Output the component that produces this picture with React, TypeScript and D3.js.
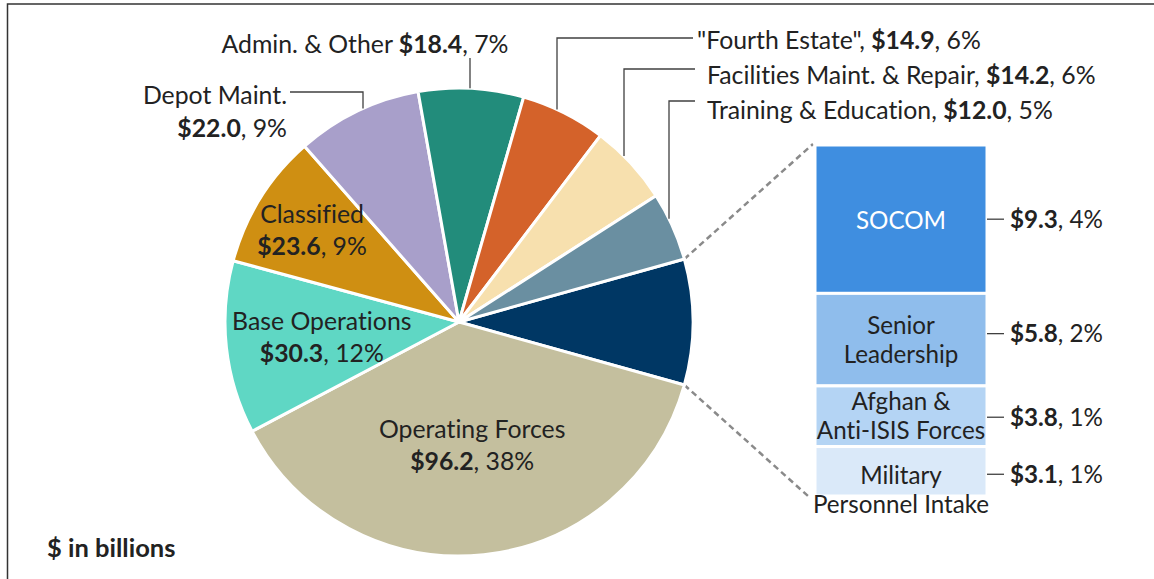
import React from "react";
import * as d3 from "d3";

// ---------- data ----------
const pieCategories = [
  "Operating Forces",
  "Base Operations",
  "Classified",
  "Depot Maint.",
  "Admin. & Other",
  "\"Fourth Estate\"",
  "Facilities Maint. & Repair",
  "Training & Education",
];
const pieValues = [96.2, 30.3, 23.6, 22.0, 18.4, 14.9, 14.2, 12.0];
const pieColors = ["#C4BF9E", "#5FD7C4", "#CF8F12", "#A89FCA", "#228C7B", "#D4622A", "#F7E0AE", "#6A8FA1"];
const otherColor = "#003764";

const barCategories = ["SOCOM", "Senior Leadership", "Afghan & Anti-ISIS Forces", "Military Personnel Intake"];
const barLabelLines = [["SOCOM"], ["Senior", "Leadership"], ["Afghan &", "Anti-ISIS Forces"], ["Military", "Personnel Intake"]];
const barValues = [9.3, 5.8, 3.8, 3.1];
const barColors = ["#3F8EE0", "#8FBDEC", "#B4D4F4", "#DAE9F9"];
const barTextColors = ["#FFFFFF", "#222222", "#222222", "#222222"];
const unitsLabel = "$ in billions";

// ---------- layout ----------
const W = 1154;
const H = 579;
const FONT = "Lato, 'Open Sans', sans-serif";
const FS = 24.8;
const FSB = 24.2;
const LH = 32;
const TXT = "#222222";
const cx = 459;
const cy = 322;
const R = 234;
const barX0 = 815;
const barX1 = 987;
const barTop = 145;
const barBottom = 496;

// inside labels: radius factor of block center
const insideLabels: Record<string, number> = {
  "Operating Forces": 0.53,
  "Base Operations": 0.59,
  "Classified": 0.74,
};
// outside labels
type Out = { x: number; y: number; anchor: string; lines: number; leader: number[][]; leaderX: number; single?: boolean };
const outsideLabels: Record<string, Out> = {
  "Depot Maint.": { x: 287, y: 95, anchor: "end", lines: 2, leader: [[290, 92]], leaderX: 363 },
  "Admin. & Other": { x: 365, y: 44, anchor: "middle", lines: 1, leader: [], leaderX: 470, single: true },
  "\"Fourth Estate\"": { x: 697, y: 40, anchor: "start", lines: 1, leader: [[693, 38]], leaderX: 557 },
  "Facilities Maint. & Repair": { x: 707, y: 75, anchor: "start", lines: 1, leader: [[695, 69]], leaderX: 624 },
  "Training & Education": { x: 707, y: 110, anchor: "start", lines: 1, leader: [[695, 101]], leaderX: 669 },
};
const barValueDy = [0, -6, 1, 3];
const barTextDy = [1, 0, 0, 19];

export default function App() {
  const otherValue = d3.sum(barValues);
  const total = d3.sum(pieValues) + otherValue;
  const items = [
    { name: "Other", value: otherValue, color: otherColor },
    ...pieCategories.map((c, i) => ({ name: c, value: pieValues[i], color: pieColors[i] })),
  ];
  const half = (otherValue / total) * Math.PI;
  const start = Math.PI / 2 - half;
  const pie = d3
    .pie<any>()
    .sort(null)
    .value((d: any) => d.value)
    .startAngle(start)
    .endAngle(start + 2 * Math.PI);
  const arcs = pie(items);
  const arc = d3.arc<any>().innerRadius(0).outerRadius(R);
  const pct = (v: number) => Math.round((v / total) * 100) + "%";
  const money = (v: number) => "$" + d3.format(".1f")(v);

  const y = d3.scaleLinear().domain([0, otherValue]).range([barTop, barBottom]);
  let acc = 0;
  const segs = barValues.map((v, i) => {
    const s = { i, y0: y(acc), y1: y(acc + v), v };
    acc += v;
    return s;
  });

  const otherArc = arcs[0];
  const p0 = [cx + R * Math.sin(otherArc.startAngle), cy - R * Math.cos(otherArc.startAngle)];
  const p1 = [cx + R * Math.sin(otherArc.endAngle), cy - R * Math.cos(otherArc.endAngle)];

  const edgeY = (x: number) => cy - Math.sqrt(R * R - (x - cx) * (x - cx));
  const base = (yc: number, fs: number = FS) => yc + fs * 0.35;

  return (
    <svg
      width={W}
      height={H}
      style={{ position: "absolute", left: 0, top: 0, background: "#fff", fontVariantLigatures: "none" }}
      fontFamily={FONT}
    >
      <rect x={0} y={0} width={W} height={H} fill="#fff" />
      <path d={`M7.5,${H + 5} V4 H${W + 5}`} fill="none" stroke="#333" strokeWidth={1.5} />

      {/* connectors */}
      <line x1={p0[0]} y1={p0[1]} x2={barX0 - 2} y2={barTop - 1} stroke="#8a8a8a" strokeWidth={2.5} strokeDasharray="6,4" />
      <line x1={p1[0]} y1={p1[1]} x2={barX0 - 7} y2={barBottom} stroke="#8a8a8a" strokeWidth={2.5} strokeDasharray="6,4" />

      {/* pie */}
      <g transform={`translate(${cx},${cy})`}>
        {arcs.map((a, i) => (
          <path key={i} d={arc(a) as string} fill={a.data.color} stroke="#fff" strokeWidth={3} strokeLinejoin="round" />
        ))}
      </g>

      {/* inside labels */}
      {arcs
        .filter((a) => insideLabels[a.data.name] !== undefined)
        .map((a, i) => {
          const rr = insideLabels[a.data.name] * R;
          const m = (a.startAngle + a.endAngle) / 2;
          const x = cx + rr * Math.sin(m);
          const yc = cy - rr * Math.cos(m);
          return (
            <g key={i} fontSize={FS} fill={TXT} textAnchor="middle">
              <text x={x} y={base(yc - LH / 2)}>{a.data.name}</text>
              <text x={x} y={base(yc + LH / 2)}>
                <tspan fontWeight="bold">{money(a.data.value)}</tspan>
                <tspan>{", " + pct(a.data.value)}</tspan>
              </text>
            </g>
          );
        })}

      {/* outside labels */}
      {arcs
        .filter((a) => outsideLabels[a.data.name] !== undefined)
        .map((a, i) => {
          const o = outsideLabels[a.data.name];
          const ey = edgeY(o.leaderX);
          let pts: number[][];
          if (o.single) {
            pts = [[o.leaderX, o.y + 14], [o.leaderX, ey]];
          } else {
            pts = [o.leader[0], [o.leaderX, o.leader[0][1]], [o.leaderX, ey]];
          }
          return (
            <g key={i} fontSize={FS} fill={TXT}>
              <polyline points={pts.map((p) => p.join(",")).join(" ")} fill="none" stroke="#404040" strokeWidth={1.3} />
              {o.lines === 2 ? (
                <>
                  <text x={o.x} y={base(o.y)} textAnchor={o.anchor}>{a.data.name}</text>
                  <text x={o.x} y={base(o.y + 33)} textAnchor={o.anchor}>
                    <tspan fontWeight="bold">{money(a.data.value)}</tspan>
                    <tspan>{", " + pct(a.data.value)}</tspan>
                  </text>
                </>
              ) : (
                <text x={o.x} y={base(o.y)} textAnchor={o.anchor}>
                  <tspan>{a.data.name + (o.single ? " " : ", ")}</tspan>
                  <tspan fontWeight="bold">{money(a.data.value)}</tspan>
                  <tspan>{", " + pct(a.data.value)}</tspan>
                </text>
              )}
            </g>
          );
        })}

      {/* bar of pie */}
      {segs.map((s) => (
        <rect key={s.i} x={barX0} y={s.y0} width={barX1 - barX0} height={s.y1 - s.y0} fill={barColors[s.i]} stroke="#fff" strokeWidth={3} />
      ))}
      {segs.map((s) => {
        const lines = barLabelLines[s.i];
        const yc = (s.y0 + s.y1) / 2 + barTextDy[s.i];
        const xm = (barX0 + barX1) / 2;
        return (
          <g key={"t" + s.i} fontSize={FSB} fill={barTextColors[s.i]} textAnchor="middle">
            {lines.map((l, k) => (
              <text key={k} x={xm} y={base(yc + (k - (lines.length - 1) / 2) * 29, FSB)}>{l}</text>
            ))}
          </g>
        );
      })}
      {segs.map((s) => {
        const yc = (s.y0 + s.y1) / 2 + barValueDy[s.i];
        return (
          <g key={"v" + s.i} fontSize={FSB} fill={TXT}>
            <line x1={barX1} x2={barX1 + 17} y1={yc} y2={yc} stroke="#404040" strokeWidth={1.3} />
            <text x={barX1 + 23} y={base(yc, FSB)}>
              <tspan fontWeight="bold">{money(barValues[s.i])}</tspan>
              <tspan>{", " + pct(barValues[s.i])}</tspan>
            </text>
          </g>
        );
      })}

      <text x={47} y={557} fontSize={25.5} fontWeight="bold" fill={TXT}>{unitsLabel}</text>
    </svg>
  );
}
